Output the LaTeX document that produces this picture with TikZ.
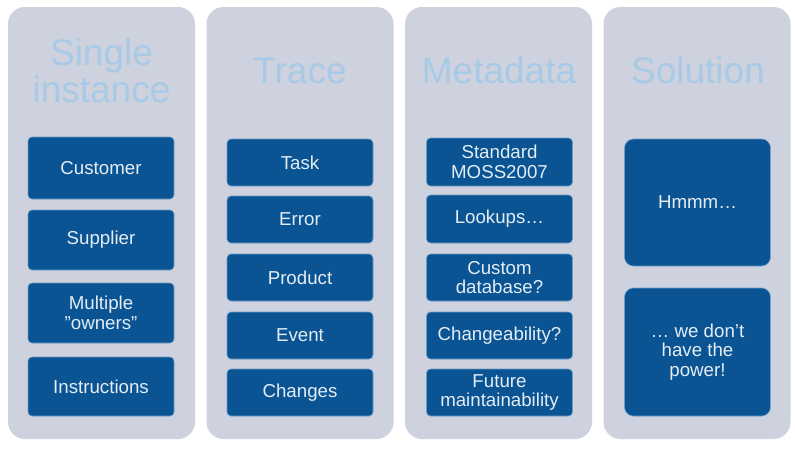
\documentclass[tikz,border=0pt]{standalone}
\usepackage{fontspec}
\setmainfont{Liberation Sans}
\definecolor{panelfill}{HTML}{CDD2DE}
\definecolor{boxfill}{HTML}{0A5494}
\definecolor{boxedge}{HTML}{6F9CC8}
\definecolor{titlecol}{HTML}{A8CAE6}
\definecolor{boxtext}{HTML}{E4ECF4}
\tikzset{
  panel/.style={fill=panelfill, draw=none, rounded corners=17pt, minimum width=187pt, minimum height=432pt, inner sep=0pt},
  title/.style={text=titlecol, font=\fontsize{37}{37}\selectfont, anchor=base, inner sep=0pt},
  itembox/.style={fill=boxfill, draw=boxedge, line width=0.6pt, rounded corners=4pt, minimum width=146pt, inner sep=0pt, text=boxtext, align=center, font=\fontsize{18.7}{19.5}\selectfont},
  bigbox/.style={itembox, rounded corners=9pt}
}
\begin{document}
\begin{tikzpicture}[x=1pt, y=-1pt]
\useasboundingbox (0,0) rectangle (795,450);
\fill[white] (0,0) rectangle (795,450);
% panels
\node[panel] (p1) at (101.5,223) {};
\node[panel] (p2) at (300,223) {};
\node[panel] (p3) at (498.5,223) {};
\node[panel] (p4) at (697,223) {};
% titles
\node[title] (t1a) at (101.5,65) {Single};
\node[title] (t1b) at (101.5,102) {instance};
\node[title] (t2) at (300,83) {Trace};
\node[title] (t3) at (499,83) {Metadata};
\node[title] (t4) at (698,83) {Solution};
% column 1
\node[itembox, minimum height=62pt] (c1) at (101,168) {Customer};
\node[itembox, minimum height=60pt] (c2) at (101,240) {Supplier};
\node[itembox, minimum height=60pt] (c3) at (101,313) {Multiple\\”owners”};
\node[itembox, minimum height=59pt] (c4) at (101,386.5) {Instructions};
% column 2
\node[itembox, minimum height=47pt] (d1) at (300,162.5) {Task};
\node[itembox, minimum height=47pt] (d2) at (300,219.5) {Error};
\node[itembox, minimum height=47pt] (d3) at (300,277.5) {Product};
\node[itembox, minimum height=47pt] (d4) at (300,335.5) {Event};
\node[itembox, minimum height=47pt] (d5) at (300,392.5) {Changes};
% column 3
\node[itembox, minimum height=48pt] (e1) at (499.5,162) {Standard\\MOSS2007};
\node[itembox, minimum height=48pt] (e2) at (499.5,219) {Lookups…};
\node[itembox, minimum height=47pt] (e3) at (499.5,277.5) {Custom\\database?};
\node[itembox, minimum height=47pt] (e4) at (499.5,335.5) {Changeability?};
\node[itembox, minimum height=47pt] (e5) at (499.5,392.5) {Future\\maintainability};
% column 4
\node[bigbox, minimum height=127pt] (f1) at (697.5,202.5) {Hmmm…};
\node[bigbox, minimum height=128pt] (f2) at (697.5,352) {… we don’t\\have the\\power!};
\end{tikzpicture}
\end{document}
